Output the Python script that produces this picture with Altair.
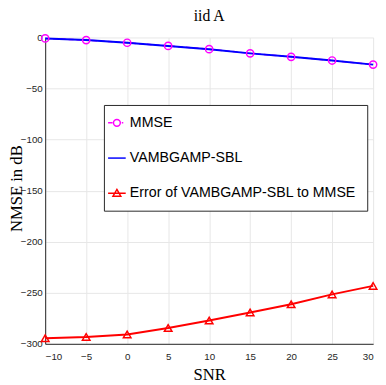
import altair as alt
import pandas as pd

snr = [-10, -5, 0, 5, 10, 15, 20, 25, 30]
mmse = [-1.0, -2.6, -5.2, -8.3, -11.5, -15.6, -19.0, -22.6, -26.6]
vamp = [-1.0, -2.6, -5.2, -8.3, -11.5, -15.6, -19.0, -22.6, -26.6]
err = [-294.5, -293.3, -290.8, -284.5, -277.2, -269.3, -261.3, -251.6, -243.3]
y_ticks = [-300, -250, -200, -150, -100, -50, 0]

series_names = ["MMSE", "VAMBGAMP-SBL", "Error of VAMBGAMP-SBL to MMSE"]
series_colors = ["#ff00ff", "#0000ff", "#ff0000"]
# legend symbols: line + marker drawn as custom paths
series_symbols = [
    "M-2.8,0H-1.9M0.0,0H0.3M-0.3,0A0.7,0.7 0 1,1 -1.7,0A0.7,0.7 0 1,1 -0.3,0Z",
    "M-2.8,0H0.8",
    "M-2.8,0H0.8M-1.0,-0.8L-0.2,0.6H-1.8Z",
]

rows = []
for name, vals in zip(series_names, [mmse, vamp, err]):
    for s, v in zip(snr, vals):
        rows.append({"snr": s, "value": v, "series": name})
df = pd.DataFrame(rows)

LABEL_FONT = "Liberation Sans"
SERIF = "Liberation Serif"

x_enc = alt.X("snr:Q", scale=alt.Scale(domain=[-10, 30], nice=False),
              axis=alt.Axis(values=snr, title="SNR", labelPadding=8,
                            ticks=False, tickSize=0))
y_enc = alt.Y("value:Q", scale=alt.Scale(domain=[-300, 0], nice=False),
              axis=alt.Axis(values=y_ticks, title="NMSE in dB", labelPadding=3,
                            ticks=False, tickSize=0, titleX=-24, titleY=154,
                            titleBaseline="alphabetic", titleAngle=270))

base = alt.Chart(df).encode(x=x_enc, y=y_enc)

mmse_line = base.transform_filter(alt.datum.series == "MMSE").mark_line(
    color="#ff00ff", strokeWidth=1.5, strokeDash=[5, 3])
vamp_line = base.transform_filter(alt.datum.series == "VAMBGAMP-SBL").mark_line(
    color="#0000ff", strokeWidth=2)
err_line = base.transform_filter(
    alt.datum.series == "Error of VAMBGAMP-SBL to MMSE").mark_line(
    color="#ff0000", strokeWidth=2)
mmse_pts = base.transform_filter(alt.datum.series == "MMSE").mark_point(
    shape="circle", filled=False, color="#ff00ff", size=55, strokeWidth=1.5, opacity=1)
err_pts = base.transform_filter(
    alt.datum.series == "Error of VAMBGAMP-SBL to MMSE").mark_point(
    shape="triangle-up", filled=False, color="#ff0000", size=60, strokeWidth=1.5, opacity=1)

legend_layer = base.transform_filter("false").mark_point(
    filled=False, strokeWidth=1.5, opacity=1).encode(
    color=alt.Color("series:N",
                    scale=alt.Scale(domain=series_names, range=series_colors),
                    legend=alt.Legend(title=None, orient="none", legendX=60, legendY=69,
                                      fillColor="white", strokeColor="#262626",
                                      padding=11, rowPadding=21, symbolSize=100,
                                      labelOffset=1, labelFont=LABEL_FONT,
                                      labelFontSize=14.5, labelColor="black",
                                      symbolStrokeWidth=1.5, labelLimit=400)),
    shape=alt.Shape("series:N",
                    scale=alt.Scale(domain=series_names, range=series_symbols),
                    legend=alt.Legend(title=None, orient="none", legendX=60, legendY=69)),
)

chart = alt.layer(mmse_line, vamp_line, err_line, mmse_pts, err_pts, legend_layer).properties(
    width=335, height=313,
    title=alt.Title("iid A", font=SERIF, fontSize=16, fontWeight="normal",
                    color="black", offset=8),
    padding={"left": 38, "top": 26, "right": 5, "bottom": 38},
    autosize=alt.AutoSizeParams(type="none"),
).configure_view(stroke=None).configure_axis(
    gridColor="#e6e6e6", gridWidth=1, domainColor="#262626", domainWidth=1,
    labelFont=LABEL_FONT, labelFontSize=10, labelColor="#262626",
    titleFont=SERIF, titleFontWeight="normal", titleColor="black",
).configure_axisX(titleFontSize=17, titlePadding=5).configure_axisY(
    titleFontSize=17)

chart.save("out.html", embed_options={"renderer": "svg", "actions": False})
